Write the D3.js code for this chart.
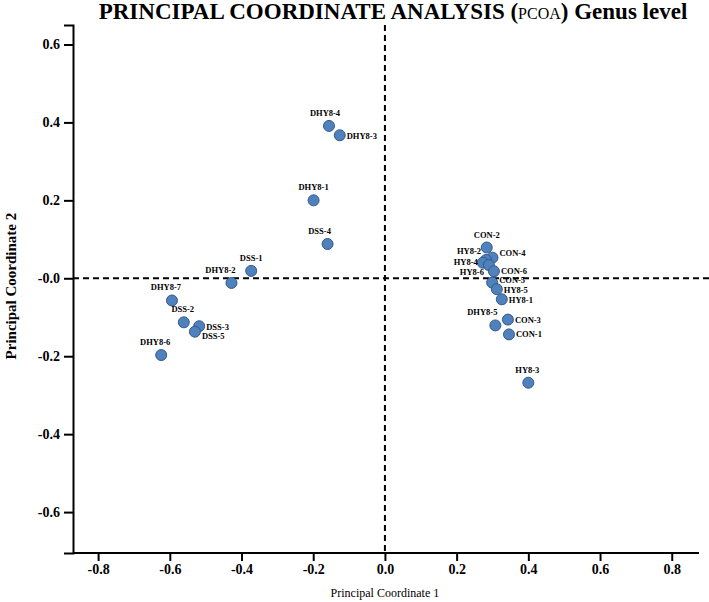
<!DOCTYPE html>
<html>
<head>
<meta charset="utf-8">
<script src="https://cdn.jsdelivr.net/npm/d3@7"></script>
<style>
  html, body { margin: 0; padding: 0; background: #fff; }
  svg { display: block; }
  text { font-family: "Liberation Serif", "Times New Roman", serif; }
</style>
</head>
<body>
<svg id="chart" width="709" height="602"></svg>
<script>
// ---- data ----
const sampleNames = ["DHY8-4","DHY8-3","DHY8-1","DSS-4","DSS-1","DHY8-2","DHY8-7","DSS-2","DSS-3","DSS-5","DHY8-6",
  "CON-2","CON-4","HY8-2","HY8-4","HY8-6","CON-6","CON-5","HY8-5","HY8-1","CON-3","DHY8-5","CON-1","HY8-3"];
const pc1Values = [-0.156,-0.126,-0.199,-0.160,-0.373,-0.428,-0.594,-0.561,-0.518,-0.530,-0.624,
  0.284,0.300,0.282,0.273,0.290,0.304,0.299,0.312,0.326,0.343,0.308,0.346,0.400];
const pc2Values = [0.391,0.367,0.200,0.088,0.019,-0.012,-0.057,-0.113,-0.123,-0.137,-0.197,
  0.079,0.053,0.047,0.040,0.034,0.018,-0.011,-0.028,-0.054,-0.106,-0.121,-0.144,-0.268];
const xTickValues = [-0.8,-0.6,-0.4,-0.2,0.0,0.2,0.4,0.6,0.8];
const xTickLabels = ["-0.8","-0.6","-0.4","-0.2","0.0","0.2","0.4","0.6","0.8"];
const yTickValues = [0.6,0.4,0.2,0.0,-0.2,-0.4,-0.6];
const yTickLabels = ["0.6","0.4","0.2","-0.0","-0.2","-0.4","-0.6"];

// ---- label placement (layout, not data) ----
const labelSide = {
  "DHY8-4":["top",-4], "DHY8-3":["right",0], "DHY8-1":["top",0], "DSS-4":["top",-8],
  "DSS-1":["top",0], "DHY8-2":["top",-11], "DHY8-7":["top",-6], "DSS-2":["top",-1],
  "DSS-3":["right",0], "DSS-5":["right",4], "DHY8-6":["top",-6],
  "CON-2":["top",0], "CON-4":["right",-5], "HY8-2":["left",-9], "HY8-4":["left",-1.5],
  "HY8-6":["left",6], "CON-6":["right",-1], "CON-5":["right",-3], "HY8-5":["right",0],
  "HY8-1":["right",0], "CON-3":["right",0], "DHY8-5":["top",-13], "CON-1":["right",-1], "HY8-3":["top",-1]
};

const svg = d3.select("#chart");
const margin = {left: 73, top: 25, right: 10, bottom: 49};
const W = 709, H = 602;
const SERIF = "'Liberation Serif', 'Times New Roman', serif";

const x = d3.scaleLinear().domain([-0.87, 0.876]).range([margin.left, W - margin.right]);
const y = d3.scaleLinear().domain([-0.705, 0.65]).range([H - margin.bottom, margin.top]);

// Title
const title = svg.append("text")
  .attr("x", 393).attr("y", 19)
  .attr("text-anchor", "middle")
  .attr("font-family", SERIF)
  .style("font-size", "23px").style("font-weight", "bold");
title.append("tspan").text("PRINCIPAL COORDINATE ANALYSIS (");
title.append("tspan").style("font-weight", "normal").style("font-size", "16px").text("PCOA");
title.append("tspan").text(") Genus level");

// Dashed reference lines
svg.append("line")
  .attr("x1", x(0)).attr("x2", x(0))
  .attr("y1", margin.top).attr("y2", H - margin.bottom)
  .attr("stroke", "#000").attr("stroke-width", 2).attr("stroke-dasharray", "6,4");
svg.append("line")
  .attr("x1", margin.left).attr("x2", W)
  .attr("y1", y(0)).attr("y2", y(0))
  .attr("stroke", "#000").attr("stroke-width", 2).attr("stroke-dasharray", "6,4");

// Axes
const xAxis = d3.axisBottom(x).tickValues(xTickValues)
  .tickFormat((d, i) => xTickLabels[i]).tickSizeOuter(0).tickSize(8).tickPadding(3);
const gx = svg.append("g").attr("transform", `translate(0,${H - margin.bottom})`).call(xAxis);
const yAxis = d3.axisLeft(y).tickValues(yTickValues)
  .tickFormat((d, i) => yTickLabels[i]).tickSizeOuter(0).tickSize(9).tickPadding(4);
const gy = svg.append("g").attr("transform", `translate(${margin.left},0)`).call(yAxis);

[gx, gy].forEach(g => {
  g.attr("font-family", SERIF).attr("font-size", 14).attr("font-weight", "bold");
  g.select(".domain").attr("stroke", "#000").attr("stroke-width", 2);
  g.selectAll(".tick line").attr("stroke", "#000").attr("stroke-width", 2);
  g.selectAll(".tick text").attr("fill", "#000")
    .attr("font-family", SERIF).attr("font-size", 14).attr("font-weight", "bold");
});
gx.select(".domain").attr("d", `M${margin.left},0H${W - 10}`);

// Axis titles
svg.append("text")
  .attr("x", x(0)).attr("y", 597)
  .attr("text-anchor", "middle")
  .attr("font-family", SERIF)
  .style("font-size", "12px")
  .text("Principal Coordinate 1");
svg.append("text")
  .attr("transform", `translate(16,${y(-0.02)}) rotate(-90)`)
  .attr("text-anchor", "middle")
  .attr("font-family", SERIF)
  .style("font-size", "15px").style("font-weight", "bold")
  .text("Principal Coordinate 2");

// Points
const pts = sampleNames.map((n, i) => ({name: n, px: pc1Values[i], py: pc2Values[i]}));
svg.append("g").selectAll("circle").data(pts).join("circle")
  .attr("cx", d => x(d.px)).attr("cy", d => y(d.py)).attr("r", 5.5)
  .attr("fill", "#4F81BD").attr("stroke", "#35598A").attr("stroke-width", 1);

// Labels
svg.append("g").selectAll("text").data(pts).join("text")
  .attr("x", d => {
    const [side, off] = labelSide[d.name];
    if (side === "top") return x(d.px) + off;
    if (side === "right") return x(d.px) + 7;
    return x(d.px) - 5;
  })
  .attr("y", d => {
    const [side, off] = labelSide[d.name];
    if (side === "top") return y(d.py) - 10;
    return y(d.py) + off + 3.5;
  })
  .attr("text-anchor", d => {
    const side = labelSide[d.name][0];
    return side === "top" ? "middle" : side === "right" ? "start" : "end";
  })
  .attr("font-family", SERIF)
  .style("font-size", "8.5px").style("font-weight", "bold")
  .text(d => d.name);
</script>
</body>
</html>
